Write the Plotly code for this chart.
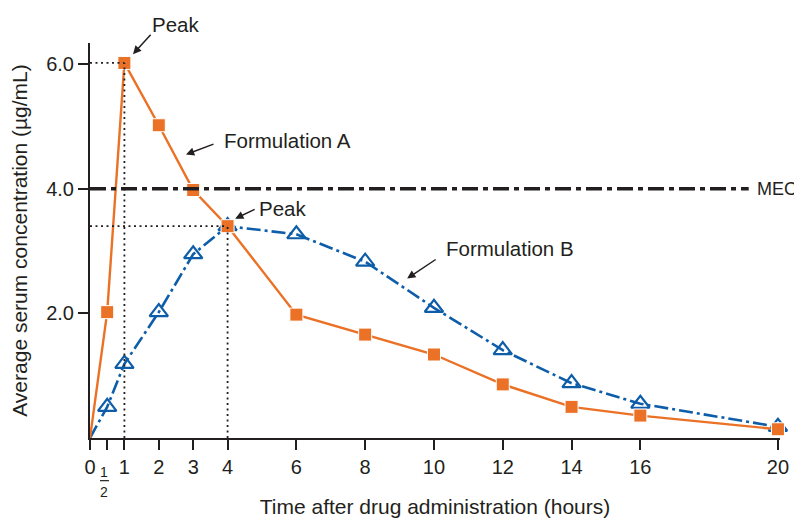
import plotly.graph_objects as go

# ---- data ----
hours = [0, 0.5, 1, 2, 3, 4, 6, 8, 10, 12, 14, 16, 20]
formulation_a = [0, 2.02, 6.02, 5.02, 3.98, 3.40, 1.98, 1.66, 1.34, 0.86, 0.50, 0.36, 0.14]
formulation_b = [0, 0.50, 1.19, 2.02, 2.95, 3.40, 3.27, 2.83, 2.09, 1.41, 0.88, 0.55, 0.18]
mec_value = 4.0
peak_a = (1, 6.02)
peak_b = (4, 3.40)
x_tick_vals = [0, 0.5, 1, 2, 3, 4, 6, 8, 10, 12, 14, 16, 20]
x_tick_text = ["0", "", "1", "2", "3", "4", "6", "8", "10", "12", "14", "16", "20"]
y_tick_vals = [2, 4, 6]
y_tick_text = ["2.0", "4.0", "6.0"]

ORANGE = "#EA7125"
BLUE = "#0D5DA8"
INK = "#231F20"
FONT = "Liberation Sans, Arial, sans-serif"

# no marker drawn at the origin point
sq_sizes = [0] + [13] * (len(hours) - 1)
tri_sizes = [0] + [16] * (len(hours) - 1)

fig = go.Figure()

dot = dict(color=INK, width=1.8, dash="2px,3.5px")
fig.add_shape(type="line", x0=0, x1=19.15, y0=mec_value, y1=mec_value,
              line=dict(color=INK, width=3.5, dash="16px,5px,5px,5px"))
fig.add_shape(type="line", x0=0, x1=peak_a[0], y0=peak_a[1], y1=peak_a[1], line=dot)
fig.add_shape(type="line", x0=peak_a[0], x1=peak_a[0], y0=0, y1=peak_a[1], line=dot)
fig.add_shape(type="line", x0=0, x1=peak_b[0], y0=peak_b[1], y1=peak_b[1], line=dot)
fig.add_shape(type="line", x0=peak_b[0], x1=peak_b[0], y0=0, y1=peak_b[1], line=dot)

fig.add_trace(go.Scatter(
    x=hours, y=formulation_b, mode="lines+markers", cliponaxis=False,
    line=dict(color=BLUE, width=2.6, dash="14px,4px,3px,4px"),
    marker=dict(symbol="triangle-up-open", size=tri_sizes, color=BLUE, opacity=1,
                line=dict(width=2.2, color=BLUE)),
    showlegend=False))
fig.add_trace(go.Scatter(
    x=hours, y=formulation_a, mode="lines+markers", cliponaxis=False,
    line=dict(color=ORANGE, width=2.4),
    marker=dict(symbol="square", size=sq_sizes, color=ORANGE, opacity=1),
    showlegend=False))

tf = dict(family=FONT, size=20.5, color=INK)
ff = dict(family=FONT, size=14, color=INK)
ann = []
for (hx, hy, ax, ay) in [(1.25, 6.16, 19, -21), (4.22, 3.52, 21, -10),
                         (2.79, 4.55, 29, -11), (9.22, 2.56, 30, -20)]:
    ann.append(dict(x=hx, y=hy, ax=ax, ay=ay, xref="x", yref="y", text="",
                    showarrow=True, arrowhead=2, arrowsize=1.1, arrowwidth=1.5, arrowcolor=INK))
ann += [
    dict(x=0.1246, y=1.048, xref="paper", yref="paper", text="Peak", font=tf),
    dict(x=5.61, y=3.69, xref="x", yref="y", text="Peak", font=tf),
    dict(x=5.73, y=4.77, xref="x", yref="y", text="Formulation A", font=tf),
    dict(x=12.21, y=3.04, xref="x", yref="y", text="Formulation B", font=tf),
    dict(x=19.32, y=mec_value, xref="x", yref="y", text="MEC",
         font=dict(family=FONT, size=18, color=INK), xanchor="left"),
    dict(x=0.0203, y=-0.085, xref="paper", yref="paper", text="1", font=ff),
    dict(x=0.0203, y=-0.136, xref="paper", yref="paper", text="2", font=ff),
]
for a in ann:
    a.setdefault("showarrow", False)
    a.setdefault("xanchor", "center")
    a.setdefault("yanchor", "middle")
fig.update_layout(annotations=ann)
fig.add_shape(type="line", x0=0.0145, x1=0.0275, y0=-0.108, y1=-0.108, xref="paper", yref="paper",
              line=dict(color=INK, width=1.2))

fig.update_xaxes(range=[0, 20.06], tickvals=x_tick_vals, ticktext=x_tick_text, automargin=False,
                 showgrid=False, zeroline=False, showline=True, linecolor=INK, linewidth=2,
                 ticks="outside", ticklen=10, tickwidth=2, tickcolor=INK,
                 tickfont=dict(family=FONT, size=20, color=INK),
                 title=dict(text="Time after drug administration (hours)", standoff=24,
                            font=dict(family=FONT, size=21, color=INK)))
fig.update_yaxes(range=[0, 6.34], tickvals=y_tick_vals, ticktext=y_tick_text, automargin=False,
                 showgrid=False, zeroline=False, showline=True, linecolor=INK, linewidth=2,
                 ticks="outside", ticklen=10, tickwidth=2, tickcolor=INK,
                 tickfont=dict(family=FONT, size=20, color=INK),
                 title=dict(text="Average serum concentration (µg/mL)", standoff=14,
                            font=dict(family=FONT, size=21, color=INK)))

# page body has an 8px margin, so the figure is offset by 8px on screen
fig.update_layout(width=794, height=510, margin=dict(l=82, r=22, t=35, b=80),
                  plot_bgcolor="white", paper_bgcolor="white")

fig.write_html("out.html")
